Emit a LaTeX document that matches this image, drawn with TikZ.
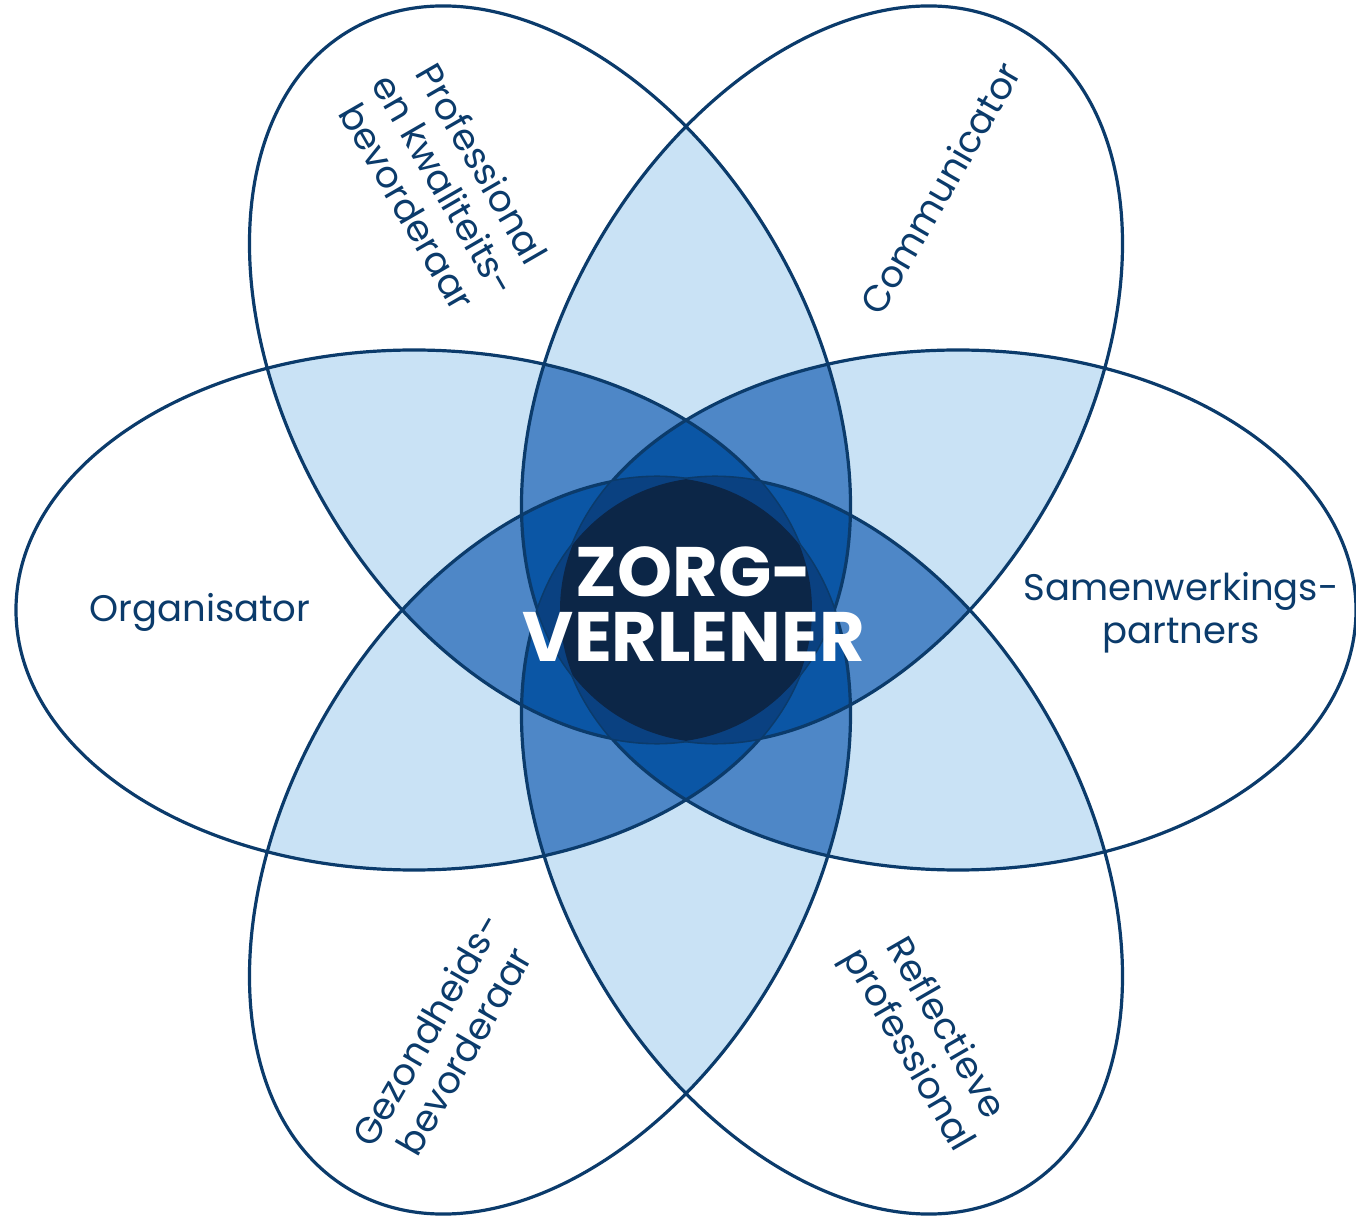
\documentclass[tikz,border=0pt]{standalone}
\usepackage{fontspec}
\setmainfont{Poppins}

\definecolor{navy}{HTML}{0B3B6B}
\definecolor{lightblue}{HTML}{C9E2F5}
\definecolor{midblue}{HTML}{4E87C7}
\definecolor{deepblue}{HTML}{0B56A5}
\definecolor{darkblue}{HTML}{0A4181}
\definecolor{nightblue}{HTML}{0C2647}

% one petal of the flower, turned by #1 degrees round the centre
\newcommand\petalclip[1]{\clip[rotate=#1] (272,0) ellipse [x radius=398pt, y radius=260pt];}

\tikzset{
  outline/.style={draw=navy, line width=3.2pt},
  role/.style={text=navy, font=\fontsize{37}{43}\selectfont, align=center},
}

\begin{document}
\begin{tikzpicture}[x=1pt,y=1pt]
\useasboundingbox (-686,-607) rectangle (670,610);

% two petals over each other
\foreach \i in {0,...,5}{
  \foreach \j in {0,...,5}{
    \ifnum\j>\i
      \begin{scope}
        \petalclip{\i*60}\petalclip{\j*60}
        \fill[lightblue] (-700,-700) rectangle (700,700);
      \end{scope}
    \fi
  }
}
% three
\foreach \i in {0,...,5}{
  \foreach \j in {0,...,5}{
    \foreach \k in {0,...,5}{
      \ifnum\j>\i \ifnum\k>\j
        \begin{scope}
          \petalclip{\i*60}\petalclip{\j*60}\petalclip{\k*60}
          \fill[midblue] (-700,-700) rectangle (700,700);
        \end{scope}
      \fi\fi
    }
  }
}
% four: all but \i and \j
\foreach \i in {0,...,5}{
  \foreach \j in {0,...,5}{
    \ifnum\j>\i
      \begin{scope}
        \foreach \k in {0,...,5}{\ifnum\k=\i\else\ifnum\k=\j\else\petalclip{\k*60}\fi\fi}
        \fill[deepblue] (-700,-700) rectangle (700,700);
      \end{scope}
    \fi
  }
}

\foreach \t in {0,60,...,300}
  \draw[outline,rotate=\t] (272,0) ellipse [x radius=398pt, y radius=260pt];

% five: all but \i
\foreach \i in {0,...,5}{
  \begin{scope}
    \foreach \k in {0,...,5}{\ifnum\k=\i\else\petalclip{\k*60}\fi}
    \fill[darkblue] (-700,-700) rectangle (700,700);
  \end{scope}
}
% all six
\begin{scope}
  \foreach \k in {0,...,5}{\petalclip{\k*60}}
  \fill[nightblue] (-700,-700) rectangle (700,700);
\end{scope}

\node[role] (org) at (-486,-2) {Organisator};
\node[role] (sam) at (495,-3) {Samenwerkings-\\partners};
\node[role,rotate=60] (com) at (254,422) {Communicator};
\node[role,rotate=-60] (pro) at (-241,425) {Professional\\en kwaliteits-\\bevorderaar};
\node[role,rotate=60] (gez) at (-241,-430) {Gezondheids-\\bevorderaar};
\node[role,rotate=-60] (ref) at (239,-430) {Reflectieve\\professional};
\node[text=white, font=\bfseries\fontsize{70}{65}\selectfont, align=center] (zorg) at (8,6) {ZORG-\\VERLENER};
\end{tikzpicture}
\end{document}
